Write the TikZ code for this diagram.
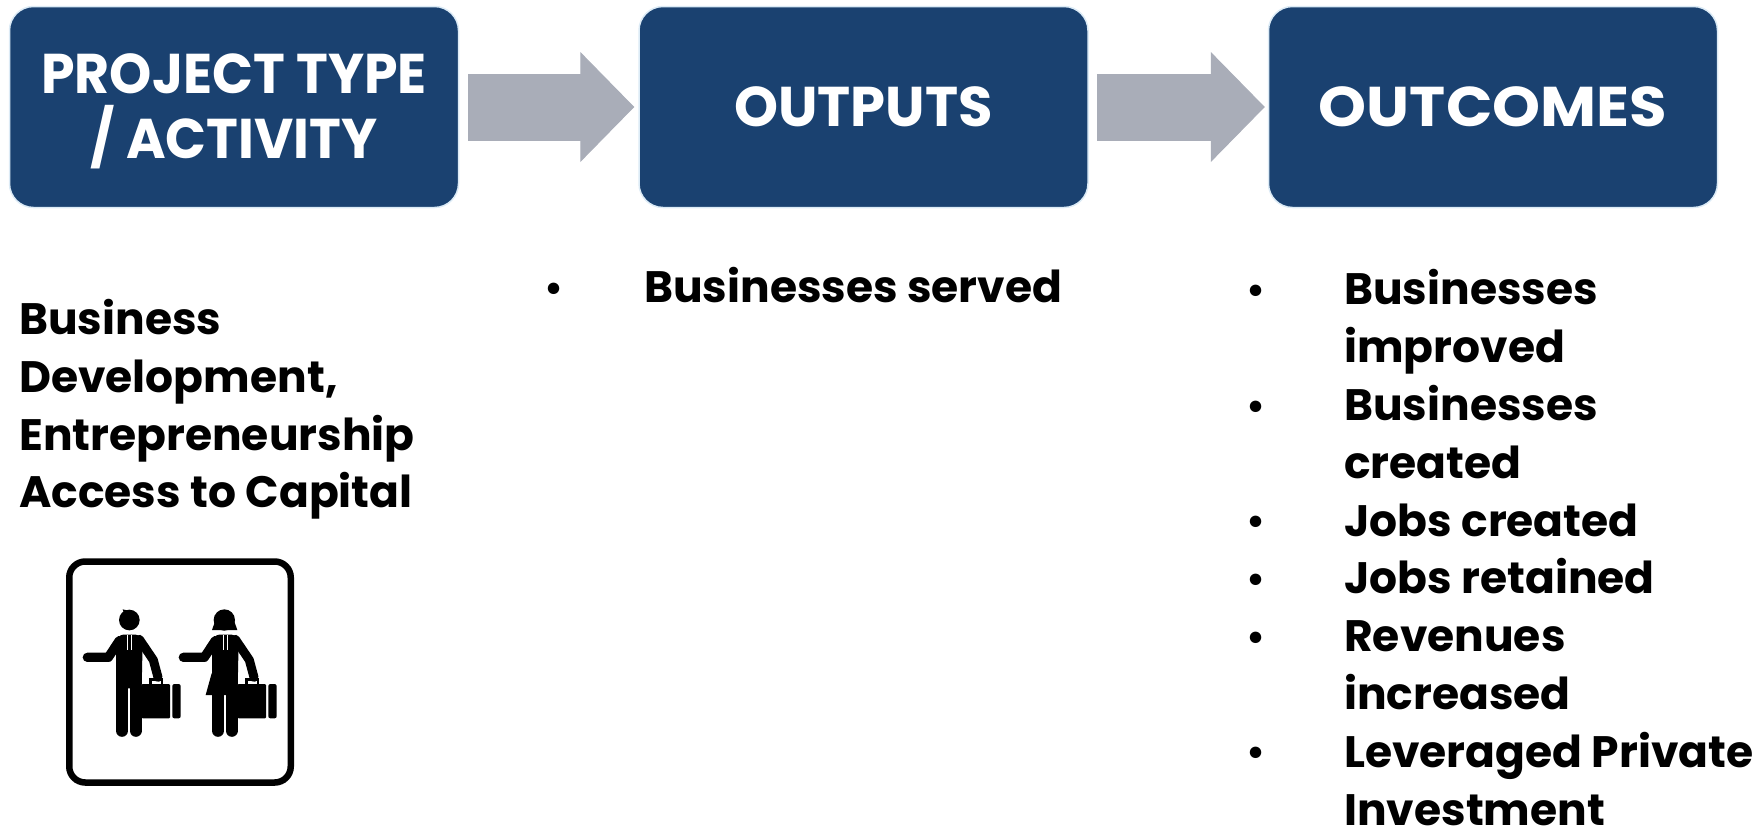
\documentclass[tikz,border=0pt]{standalone}
\usepackage{fontspec}
\setmainfont{Poppins}
\usetikzlibrary{positioning, arrows.meta}

\definecolor{boxblue}{HTML}{1A4170}
\definecolor{boxrim}{HTML}{DCEBF6}
\definecolor{arrowgrey}{HTML}{A9ADB8}

\tikzset{
    titlebox/.style={draw=boxrim, line width=1.5pt, fill=boxblue, rounded corners=24pt, text=white, align=center,
        minimum width=449pt, minimum height=201pt, inner sep=0pt, font=\bfseries\fontsize{56pt}{65pt}\selectfont},
    listtext/.style={anchor=north west, align=left, inner sep=0pt, font=\bfseries\fontsize{44pt}{57.8pt}\selectfont},
    bullet/.style={anchor=base, inner sep=0pt, font=\bfseries\fontsize{38pt}{57.8pt}\selectfont},
    blockarrow/.style={color=arrowgrey, line width=67pt, -{Triangle[length=54pt, width=110pt, line width=1pt]}},
    traveller/.pic={
        \fill[rounded corners=3pt] (229,302) -- (240,284) -- (296,284) -- (308,302) -- (305,445) -- (228,445) -- cycle; % torso
        \draw[line width=12.3pt, line cap=round] (246,440) -- (246,572) (287,440) -- (287,572); % legs
        \draw[line width=9.3pt, line cap=round, line join=round] (238,302) -- (205,352) -- (142,352); % free arm
        \draw[line width=9pt, line cap=round, line join=round] (298,298) -- (340,360) -- (354,412); % arm with case
        \draw[white, line width=.6pt] (262,286) -- (262,330) (273,286) -- (273,330); % tie
        \fill[rounded corners=1pt] (305,432) rectangle (390,535); % case
        \fill[rounded corners=2pt] (397,432) rectangle (422,535);
        \draw[line width=2.4pt] (332,432) -- (332,418) -- (366,418) -- (366,432); % handle
    }
}

\begin{document}
\begin{tikzpicture}[x=1pt, y=-1pt, node distance=629.5pt]

    \useasboundingbox (0,0) rectangle (1763,828);

    % Define the title boxes
    \node[titlebox] (activity) at (234,107) {\rule{0pt}{48pt}\scalebox{.96}[1]{PROJECT TYPE}\\\scalebox{.96}[1]{/ ACTIVITY}};
    \node[titlebox, right of=activity] (outputs) {OUTPUTS};
    \node[titlebox, right of=outputs] (outcomes) {\scalebox{1.09}[1]{OUTCOMES}};

    % Define the arrows between them
    \path[blockarrow]
    (activity) edge[shorten <=9pt, shorten >=4pt] (outputs)
    (outputs) edge[shorten <=8pt, shorten >=3pt] (outcomes);

    % Text below the boxes
    \node[listtext] (activitytext) at (19,299) {Business\\Development,\\Entrepreneurship\\Access to Capital};
    \node[bullet] (outputbullet) at (554,301) {•};
    \node[listtext] (outputtext) at (644,267) {Businesses served};
    \node[listtext] (outcometext) at (1344,269.5) {Businesses\\improved\\Businesses\\created\\Jobs created\\Jobs retained\\Revenues\\increased\\Leveraged Private\\Investment};
    \foreach \y [count=\i] in {303,419,534,592,650,765}
        \node[bullet] (outcomebullet\i) at (1256,\y) {•};

    % The icon
    \node[draw, line width=6.5pt, rounded corners=16pt, minimum width=221.5pt, minimum height=221pt] (iconframe) at (180,672) {};
    \begin{scope}[shift={(40,540)}, x=1/3*1pt, y=-1/3*1pt]
        \pic {traveller}; % the man
        \fill (268,240) circle[radius=31];
        \fill (248,208) -- (275,214) -- (255,230) -- cycle;
        \pic at (288,0) {traveller}; % the woman
        \fill (553,240) circle[radius=32];
        \fill (516,270) -- (592,270) -- (580,236) -- (528,236) -- cycle;
        \fill (515,400) -- (497,465) -- (593,465) -- (593,400) -- cycle;
    \end{scope}
\end{tikzpicture}
\end{document}
